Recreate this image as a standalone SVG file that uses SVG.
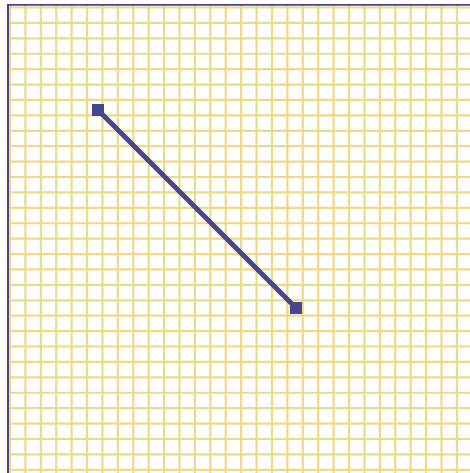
<svg xmlns="http://www.w3.org/2000/svg" width="470" height="473" viewBox="0 0 470 473">
  <style>
    .grid { stroke: #eed987; stroke-width: 2.2; fill: none; }
    .frame { stroke: #45468c; fill: none; }
    .seg { stroke: #45468c; stroke-width: 5; fill: none; }
    .handle { fill: #45468c; }
  </style>
  <rect x="0" y="0" width="470" height="473" fill="#ffffff"/>
  <g id="grid">
    <path class="grid" d="M10 5V473M25.41 5V473M40.82 5V473M56.23 5V473M71.64 5V473M87.05 5V473M102.46 5V473M117.87 5V473M133.28 5V473M148.69 5V473M164.1 5V473M179.51 5V473M194.92 5V473M210.33 5V473M225.74 5V473M241.15 5V473M256.56 5V473M271.97 5V473M287.38 5V473M302.79 5V473M318.2 5V473M333.61 5V473M349.02 5V473M364.43 5V473M379.84 5V473M395.25 5V473M410.66 5V473M426.07 5V473M441.48 5V473M456.89 5V473"/>
    <path class="grid" d="M8 7.5H470M8 22.91H470M8 38.32H470M8 53.73H470M8 69.14H470M8 84.55H470M8 99.96H470M8 115.37H470M8 130.78H470M8 146.19H470M8 161.6H470M8 177.01H470M8 192.42H470M8 207.83H470M8 223.24H470M8 238.65H470M8 254.06H470M8 269.47H470M8 284.88H470M8 300.29H470M8 315.7H470M8 331.11H470M8 346.52H470M8 361.93H470M8 377.34H470M8 392.75H470M8 408.16H470M8 423.57H470M8 438.98H470M8 454.39H470M8 469.8H470"/>
  </g>
  <g id="frame">
    <path class="frame" d="M7 4.8H470" stroke-width="1.8"/>
    <path class="frame" d="M8 4V473" stroke-width="2"/>
  </g>
  <g id="connectors">
    <path class="seg" d="M98 110L296 308"/>
  </g>
  <g id="start">
    <rect class="handle" x="92" y="104" width="12" height="12"/>
  </g>
  <g id="end">
    <rect class="handle" x="290" y="302" width="12" height="12"/>
  </g>
</svg>
